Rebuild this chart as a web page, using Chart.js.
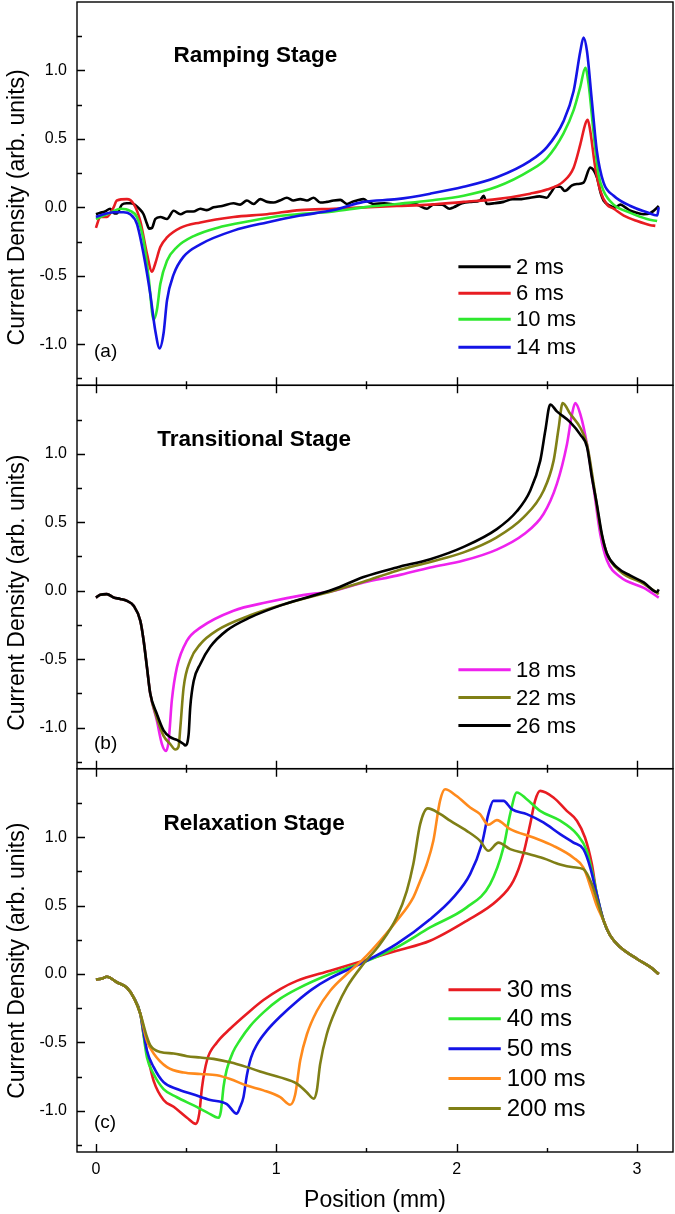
<!DOCTYPE html>
<html>
<head>
<meta charset="utf-8">
<title>Current Density profiles</title>
<script src="https://cdn.jsdelivr.net/npm/chart.js@4.4.1/dist/chart.umd.min.js"></script>
<style>
	html, body { margin: 0; padding: 0; background: #fff; }
	#wrap { width: 675px; height: 1214px; }
</style>
</head>
<body>
<div id="wrap"><canvas id="chart" width="675" height="1214"></canvas></div>
<script>
// Tick values (mm and arb. units)
const xTickValues = [0, 0.5, 1, 1.5, 2, 2.5, 3];
const yTickValues = [-1.25, -1, -0.75, -0.5, -0.25, 0, 0.25, 0.5, 0.75, 1, 1.25];

// (a) Ramping stage
const rampingLabels = ['2 ms', '6 ms', '10 ms', '14 ms'];
const ramp2ms = [[0,-0.05],[0.024,-0.04],[0.05,-0.03],[0.079,-0.01],[0.098,-0.04],[0.115,-0.045],[0.144,0.02],[0.17,0.03],[0.19,0.03],[0.215,0.02],[0.24,-0.01],[0.264,-0.05],[0.283,-0.12],[0.295,-0.155],[0.311,-0.15],[0.329,-0.085],[0.357,-0.07],[0.394,-0.085],[0.431,-0.025],[0.468,-0.05],[0.505,-0.03],[0.54,-0.03],[0.579,-0.01],[0.615,-0.02],[0.652,0.0],[0.7,0.01],[0.763,0.03],[0.8,0.02],[0.837,0.05],[0.874,0.025],[0.911,0.06],[0.95,0.04],[0.985,0.035],[1.02,0.05],[1.059,0.07],[1.095,0.05],[1.133,0.06],[1.17,0.05],[1.207,0.07],[1.244,0.035],[1.28,0.04],[1.318,0.05],[1.355,0.055],[1.392,0.025],[1.42,0.04],[1.447,0.05],[1.484,0.06],[1.51,0.04],[1.54,0.025],[1.6,0.03],[1.669,0.02],[1.72,0.03],[1.78,0.02],[1.836,-0.01],[1.87,0.02],[1.92,0.02],[1.96,-0.01],[1.983,0.0],[2.03,0.03],[2.08,0.04],[2.13,0.05],[2.15,0.085],[2.168,0.025],[2.21,0.03],[2.26,0.04],[2.31,0.06],[2.36,0.06],[2.408,0.07],[2.46,0.08],[2.5,0.07],[2.519,0.1],[2.55,0.15],[2.575,0.15],[2.6,0.12],[2.64,0.16],[2.667,0.17],[2.704,0.18],[2.741,0.29],[2.778,0.22],[2.8,0.1],[2.815,0.05],[2.852,0.01],[2.88,0.0],[2.908,0.02],[2.935,0.0],[2.964,-0.025],[3.0,-0.04],[3.038,-0.05],[3.07,-0.045],[3.093,-0.025],[3.121,0.01]];
const ramp6ms = [[0,-0.15],[0.024,-0.07],[0.061,-0.07],[0.098,0.0],[0.116,0.05],[0.172,0.06],[0.209,0.025],[0.246,-0.1],[0.283,-0.34],[0.311,-0.47],[0.329,-0.41],[0.357,-0.29],[0.394,-0.22],[0.468,-0.15],[0.579,-0.11],[0.763,-0.07],[0.948,-0.05],[1.133,-0.02],[1.318,-0.01],[1.484,0.0],[1.669,0.01],[1.854,0.02],[2.039,0.04],[2.223,0.06],[2.408,0.1],[2.501,0.13],[2.593,0.19],[2.649,0.29],[2.686,0.46],[2.714,0.61],[2.727,0.64],[2.741,0.56],[2.769,0.29],[2.797,0.12],[2.834,0.02],[2.871,-0.01],[2.927,-0.06],[3.001,-0.1],[3.075,-0.13],[3.102,-0.135]];
const ramp10ms = [[0,-0.085],[0.043,-0.06],[0.079,-0.04],[0.135,-0.01],[0.19,-0.025],[0.227,-0.07],[0.264,-0.24],[0.292,-0.51],[0.32,-0.82],[0.338,-0.75],[0.357,-0.56],[0.394,-0.39],[0.449,-0.29],[0.542,-0.21],[0.671,-0.15],[0.856,-0.1],[1.041,-0.06],[1.318,-0.03],[1.484,0.0],[1.669,0.025],[1.854,0.05],[2.039,0.085],[2.223,0.15],[2.408,0.27],[2.501,0.36],[2.593,0.54],[2.649,0.71],[2.686,0.88],[2.714,1.02],[2.732,0.9],[2.76,0.54],[2.787,0.24],[2.815,0.12],[2.871,0.02],[2.964,-0.04],[3.056,-0.085],[3.112,-0.1]];
const ramp14ms = [[0,-0.07],[0.043,-0.05],[0.098,-0.036],[0.153,-0.036],[0.19,-0.05],[0.227,-0.12],[0.264,-0.34],[0.301,-0.63],[0.329,-0.9],[0.353,-1.03],[0.375,-0.92],[0.394,-0.68],[0.431,-0.49],[0.486,-0.36],[0.579,-0.27],[0.763,-0.17],[0.948,-0.11],[1.133,-0.06],[1.318,-0.02],[1.484,0.04],[1.669,0.06],[1.854,0.1],[2.039,0.15],[2.223,0.22],[2.408,0.34],[2.501,0.44],[2.593,0.63],[2.649,0.85],[2.686,1.14],[2.704,1.24],[2.723,1.14],[2.75,0.78],[2.778,0.41],[2.815,0.18],[2.871,0.085],[2.964,0.01],[3.056,-0.036],[3.112,-0.06],[3.121,0.0]];

// (b) Transitional stage
const transitionalLabels = ['18 ms', '22 ms', '26 ms'];
const trans18ms = [[0,-0.05],[0.024,-0.03],[0.061,-0.025],[0.098,-0.05],[0.135,-0.06],[0.172,-0.075],[0.209,-0.11],[0.246,-0.22],[0.264,-0.36],[0.283,-0.56],[0.301,-0.75],[0.338,-0.95],[0.366,-1.12],[0.388,-1.17],[0.403,-1.1],[0.421,-0.8],[0.449,-0.56],[0.505,-0.365],[0.579,-0.27],[0.763,-0.146],[0.948,-0.085],[1.133,-0.036],[1.32,0.0],[1.484,0.06],[1.669,0.11],[1.854,0.17],[2.039,0.22],[2.223,0.3],[2.371,0.41],[2.482,0.56],[2.556,0.78],[2.612,1.07],[2.64,1.29],[2.658,1.37],[2.686,1.29],[2.723,1.07],[2.76,0.75],[2.797,0.41],[2.834,0.22],[2.908,0.1],[3.038,0.02],[3.121,-0.05]];
const trans22ms = [[0,-0.05],[0.024,-0.03],[0.061,-0.025],[0.098,-0.05],[0.135,-0.06],[0.172,-0.075],[0.209,-0.11],[0.246,-0.22],[0.264,-0.36],[0.283,-0.56],[0.301,-0.75],[0.338,-0.93],[0.375,-1.06],[0.412,-1.12],[0.44,-1.16],[0.458,-1.14],[0.468,-1.0],[0.486,-0.71],[0.523,-0.51],[0.579,-0.39],[0.671,-0.29],[0.856,-0.18],[1.041,-0.1],[1.318,0.0],[1.484,0.065],[1.669,0.146],[1.854,0.21],[2.039,0.28],[2.223,0.39],[2.371,0.535],[2.482,0.73],[2.538,0.95],[2.566,1.19],[2.588,1.37],[2.631,1.29],[2.686,1.19],[2.723,1.07],[2.76,0.78],[2.797,0.46],[2.834,0.27],[2.908,0.14],[3.038,0.05],[3.121,-0.025]];
const trans26ms = [[0,-0.05],[0.024,-0.03],[0.061,-0.025],[0.098,-0.05],[0.135,-0.06],[0.172,-0.075],[0.209,-0.11],[0.246,-0.22],[0.264,-0.36],[0.283,-0.56],[0.301,-0.75],[0.338,-0.9],[0.375,-1.02],[0.412,-1.07],[0.449,-1.09],[0.486,-1.12],[0.495,-1.13],[0.514,-1.05],[0.523,-0.85],[0.542,-0.66],[0.579,-0.535],[0.634,-0.41],[0.726,-0.29],[0.856,-0.195],[1.041,-0.1],[1.318,0.01],[1.484,0.1],[1.669,0.17],[1.854,0.23],[2.039,0.32],[2.223,0.45],[2.334,0.58],[2.408,0.73],[2.464,0.95],[2.492,1.17],[2.519,1.36],[2.556,1.31],[2.631,1.23],[2.686,1.14],[2.723,1.05],[2.75,0.83],[2.778,0.63],[2.806,0.41],[2.834,0.27],[2.89,0.17],[2.964,0.11],[3.038,0.06],[3.112,-0.01],[3.121,0.01]];

// (c) Relaxation stage
const relaxationLabels = ['30 ms', '40 ms', '50 ms', '100 ms', '200 ms'];
const relax30ms = [[0,-0.04],[0.03,-0.035],[0.061,-0.02],[0.116,-0.06],[0.172,-0.1],[0.209,-0.17],[0.246,-0.29],[0.264,-0.44],[0.292,-0.63],[0.32,-0.78],[0.375,-0.92],[0.431,-0.97],[0.505,-1.05],[0.555,-1.095],[0.573,-1.02],[0.588,-0.83],[0.616,-0.63],[0.671,-0.5],[0.744,-0.4],[0.837,-0.29],[0.929,-0.19],[1.022,-0.11],[1.114,-0.05],[1.299,0.024],[1.483,0.097],[1.668,0.17],[1.853,0.243],[2.056,0.389],[2.223,0.535],[2.315,0.68],[2.37,0.876],[2.408,1.095],[2.435,1.265],[2.463,1.338],[2.537,1.29],[2.611,1.192],[2.667,1.12],[2.712,0.997],[2.75,0.803],[2.777,0.584],[2.815,0.39],[2.852,0.28],[2.908,0.195],[3.001,0.11],[3.075,0.05],[3.121,0.0]];
const relax40ms = [[0,-0.04],[0.03,-0.035],[0.061,-0.02],[0.116,-0.06],[0.172,-0.1],[0.209,-0.17],[0.246,-0.29],[0.283,-0.61],[0.32,-0.73],[0.375,-0.84],[0.449,-0.9],[0.542,-0.96],[0.616,-1.01],[0.68,-1.05],[0.693,-1.0],[0.708,-0.82],[0.725,-0.7],[0.76,-0.57],[0.8,-0.48],[0.855,-0.38],[0.929,-0.28],[1.022,-0.18],[1.114,-0.11],[1.299,0.0],[1.483,0.085],[1.668,0.195],[1.853,0.34],[2.056,0.487],[2.186,0.657],[2.26,0.925],[2.297,1.168],[2.334,1.326],[2.389,1.277],[2.463,1.192],[2.574,1.12],[2.667,1.022],[2.722,0.9],[2.759,0.705],[2.786,0.535],[2.815,0.39],[2.852,0.28],[2.908,0.195],[3.001,0.11],[3.075,0.05],[3.121,0.0]];
const relax50ms = [[0,-0.04],[0.03,-0.035],[0.061,-0.02],[0.116,-0.06],[0.172,-0.1],[0.209,-0.17],[0.246,-0.29],[0.283,-0.56],[0.32,-0.68],[0.375,-0.79],[0.449,-0.84],[0.542,-0.88],[0.634,-0.92],[0.726,-0.95],[0.781,-1.02],[0.8,-0.97],[0.818,-0.9],[0.837,-0.74],[0.86,-0.61],[0.895,-0.51],[0.95,-0.41],[1.022,-0.31],[1.114,-0.2],[1.2,-0.11],[1.299,-0.03],[1.483,0.085],[1.668,0.22],[1.853,0.4],[1.982,0.56],[2.075,0.73],[2.14,0.95],[2.176,1.168],[2.204,1.265],[2.26,1.265],[2.306,1.204],[2.389,1.168],[2.481,1.107],[2.574,1.022],[2.648,0.96],[2.703,0.912],[2.741,0.778],[2.777,0.584],[2.815,0.39],[2.852,0.28],[2.908,0.195],[3.001,0.11],[3.075,0.05],[3.121,0.0]];
const relax100ms = [[0,-0.04],[0.03,-0.035],[0.061,-0.02],[0.116,-0.06],[0.172,-0.1],[0.209,-0.17],[0.246,-0.29],[0.283,-0.49],[0.32,-0.58],[0.394,-0.68],[0.486,-0.72],[0.579,-0.73],[0.671,-0.74],[0.744,-0.767],[0.837,-0.815],[0.929,-0.85],[1.022,-0.9],[1.077,-0.955],[1.105,-0.88],[1.133,-0.63],[1.17,-0.44],[1.225,-0.27],[1.299,-0.122],[1.391,0.0],[1.483,0.11],[1.576,0.243],[1.668,0.389],[1.76,0.56],[1.798,0.68],[1.834,0.8],[1.871,0.973],[1.908,1.265],[1.936,1.35],[2.0,1.3],[2.075,1.216],[2.13,1.168],[2.176,1.09],[2.223,1.124],[2.297,1.058],[2.426,0.997],[2.537,0.936],[2.648,0.85],[2.703,0.778],[2.75,0.608],[2.777,0.5],[2.815,0.39],[2.852,0.28],[2.908,0.195],[3.001,0.11],[3.075,0.05],[3.121,0.0]];
const relax200ms = [[0,-0.04],[0.03,-0.035],[0.061,-0.02],[0.116,-0.06],[0.172,-0.1],[0.209,-0.17],[0.246,-0.29],[0.283,-0.46],[0.301,-0.52],[0.357,-0.57],[0.431,-0.58],[0.505,-0.6],[0.579,-0.61],[0.652,-0.62],[0.744,-0.645],[0.837,-0.68],[0.929,-0.72],[1.022,-0.755],[1.114,-0.8],[1.17,-0.865],[1.207,-0.91],[1.225,-0.85],[1.243,-0.66],[1.28,-0.44],[1.336,-0.243],[1.391,-0.097],[1.483,0.073],[1.576,0.22],[1.668,0.414],[1.724,0.608],[1.76,0.803],[1.798,1.095],[1.84,1.21],[1.908,1.17],[1.964,1.12],[2.056,1.046],[2.13,0.973],[2.176,0.9],[2.232,0.96],[2.297,0.912],[2.389,0.88],[2.481,0.846],[2.574,0.8],[2.648,0.78],[2.703,0.766],[2.75,0.657],[2.786,0.51],[2.815,0.39],[2.852,0.28],[2.908,0.195],[3.001,0.11],[3.075,0.05],[3.121,0.0]];

// Colours of the curves
const rampingColors = ['#000000', '#e81c22', '#2ee82e', '#1414e6'];
const transitionalColors = ['#ee22ee', '#808016', '#000000'];
const relaxationColors = ['#e81c22', '#2ee82e', '#1414e6', '#ff8a1c', '#7f7f16'];

const FONT = "'Liberation Sans', Arial, sans-serif";
Chart.defaults.font.family = FONT;
Chart.defaults.color = '#000';

// Panel texts (positions in data units of each panel)
const panels = [
	{axis: 'ya', title: 'Ramping Stage', titleX: 0.43, titleY: 1.107, tag: '(a)', tagY: -1.053, yTitleY: 0.0,
		labels: rampingLabels, colors: rampingColors, legendY: [-0.433, -0.628, -0.818, -1.022], legendX: [2.01, 2.3, 2.33], legendFont: 22},
	{axis: 'yb', title: 'Transitional Stage', titleX: 0.34, titleY: 1.10, tag: '(b)', tagY: -1.115, yTitleY: -0.015,
		labels: transitionalLabels, colors: transitionalColors, legendY: [-0.577, -0.781, -0.985], legendX: [2.01, 2.3, 2.33], legendFont: 22},
	{axis: 'yc', title: 'Relaxation Stage', titleX: 0.375, titleY: 1.097, tag: '(c)', tagY: -1.09, yTitleY: 0.097,
		labels: relaxationLabels, colors: relaxationColors, legendY: [-0.115, -0.326, -0.545, -0.764, -0.983], legendX: [1.955, 2.245, 2.278], legendFont: 24}
];

function series(points, label, color, axis, order) {
	return {
		label: label,
		data: points.map(p => ({x: p[0], y: p[1]})),
		borderColor: color,
		borderWidth: 2.6,
		pointRadius: 0,
		fill: false,
		cubicInterpolationMode: 'monotone',
		yAxisID: axis,
		order: order
	};
}

const datasets = [];
[ramp2ms, ramp6ms, ramp10ms, ramp14ms].forEach((s, i) => datasets.push(series(s, rampingLabels[i], rampingColors[i], 'ya', 10 - i)));
[trans18ms, trans22ms, trans26ms].forEach((s, i) => datasets.push(series(s, transitionalLabels[i], transitionalColors[i], 'yb', 10 - i)));
[relax30ms, relax40ms, relax50ms, relax100ms, relax200ms].forEach((s, i) => datasets.push(series(s, relaxationLabels[i], relaxationColors[i], 'yc', 10 - i)));

function isWhole(v, step) {
	return Math.abs(v / step - Math.round(v / step)) < 1e-6;
}

// Frame, inward ticks, legends and labels for the three stacked panels
const panelDecor = {
	id: 'panelDecor',
	afterDatasetsDraw(chart) {
		const {ctx, chartArea, scales} = chart;
		const xs = scales.x;
		const left = chartArea.left;
		const right = chartArea.right;
		ctx.save();
		ctx.strokeStyle = '#000';
		ctx.fillStyle = '#000';
		ctx.lineWidth = 1.4;

		panels.forEach((p, i) => {
			const ys = scales[p.axis];
			ctx.strokeRect(left, ys.top, right - left, ys.bottom - ys.top);

			ctx.beginPath();
			yTickValues.forEach(v => {
				const py = Math.round(ys.getPixelForValue(v)) + 0.5;
				const len = isWhole(v, 0.5) ? 8 : 5;
				ctx.moveTo(left, py);
				ctx.lineTo(left + len, py);
			});
			xTickValues.forEach(v => {
				const px = Math.round(xs.getPixelForValue(v)) + 0.5;
				const len = isWhole(v, 1) ? 8 : 4;
				ctx.moveTo(px, ys.bottom - len);
				ctx.lineTo(px, i < panels.length - 1 ? ys.bottom + len : ys.bottom);
			});
			ctx.stroke();

			// panel title
			ctx.font = 'bold 22.5px ' + FONT;
			ctx.textAlign = 'left';
			ctx.textBaseline = 'middle';
			ctx.fillText(p.title, xs.getPixelForValue(p.titleX), ys.getPixelForValue(p.titleY));

			// panel tag
			ctx.font = '19px ' + FONT;
			ctx.fillText(p.tag, left + 17, ys.getPixelForValue(p.tagY));

			// legend
			p.labels.forEach((label, k) => {
				const py = ys.getPixelForValue(p.legendY[k]);
				ctx.strokeStyle = p.colors[k];
				ctx.lineWidth = 3;
				ctx.beginPath();
				ctx.moveTo(xs.getPixelForValue(p.legendX[0]), py);
				ctx.lineTo(xs.getPixelForValue(p.legendX[1]), py);
				ctx.stroke();
				ctx.font = p.legendFont + 'px ' + FONT;
				ctx.fillText(label, xs.getPixelForValue(p.legendX[2]), py + 1);
			});
			ctx.strokeStyle = '#000';
			ctx.lineWidth = 1.4;

			// y axis title
			ctx.save();
			ctx.translate(18, ys.getPixelForValue(p.yTitleY));
			ctx.rotate(-Math.PI / 2);
			ctx.textAlign = 'center';
			ctx.font = '23px ' + FONT;
			ctx.fillText('Current Density (arb. units)', 0, 0);
			ctx.restore();
		});
		ctx.restore();
	}
};

function yAxis() {
	return {
		type: 'linear',
		position: 'left',
		stack: 'panels',
		stackWeight: 1,
		min: -1.3,
		max: 1.5,
		grid: {display: false, drawTicks: false},
		border: {display: false},
		afterBuildTicks: scale => { scale.ticks = yTickValues.map(v => ({value: v})); },
		afterFit: scale => {
			scale.width = 77;
			scale.paddingTop = 0;
			scale.paddingBottom = 0;
		},
		ticks: {
			autoSkip: false,
			padding: 10,
			font: {size: 16},
			callback: v => isWhole(v, 0.5) ? v.toFixed(1) : ''
		}
	};
}

new Chart(document.getElementById('chart').getContext('2d'), {
	type: 'line',
	data: {datasets: datasets},
	options: {
		responsive: false,
		animation: false,
		events: [],
		layout: {padding: {top: 2, right: 2, left: 0, bottom: 0}},
		plugins: {
			legend: {display: false},
			tooltip: {enabled: false}
		},
		scales: {
			x: {
				type: 'linear',
				position: 'bottom',
				min: -0.105,
				max: 3.2,
				grid: {display: false, drawTicks: false},
				border: {display: false},
				afterBuildTicks: scale => { scale.ticks = xTickValues.map(v => ({value: v})); },
				afterFit: scale => {
					scale.height = 62;
					scale.paddingLeft = 0;
					scale.paddingRight = 0;
				},
				ticks: {
					autoSkip: false,
					maxRotation: 0,
					padding: 8,
					font: {size: 16},
					callback: v => isWhole(v, 1) ? String(v) : ''
				},
				title: {
					display: true,
					text: 'Position (mm)',
					font: {size: 23},
					padding: {top: 0, bottom: 0}
				}
			},
			yc: yAxis(),
			yb: yAxis(),
			ya: yAxis()
		}
	},
	plugins: [panelDecor]
});
</script>
</body>
</html>
